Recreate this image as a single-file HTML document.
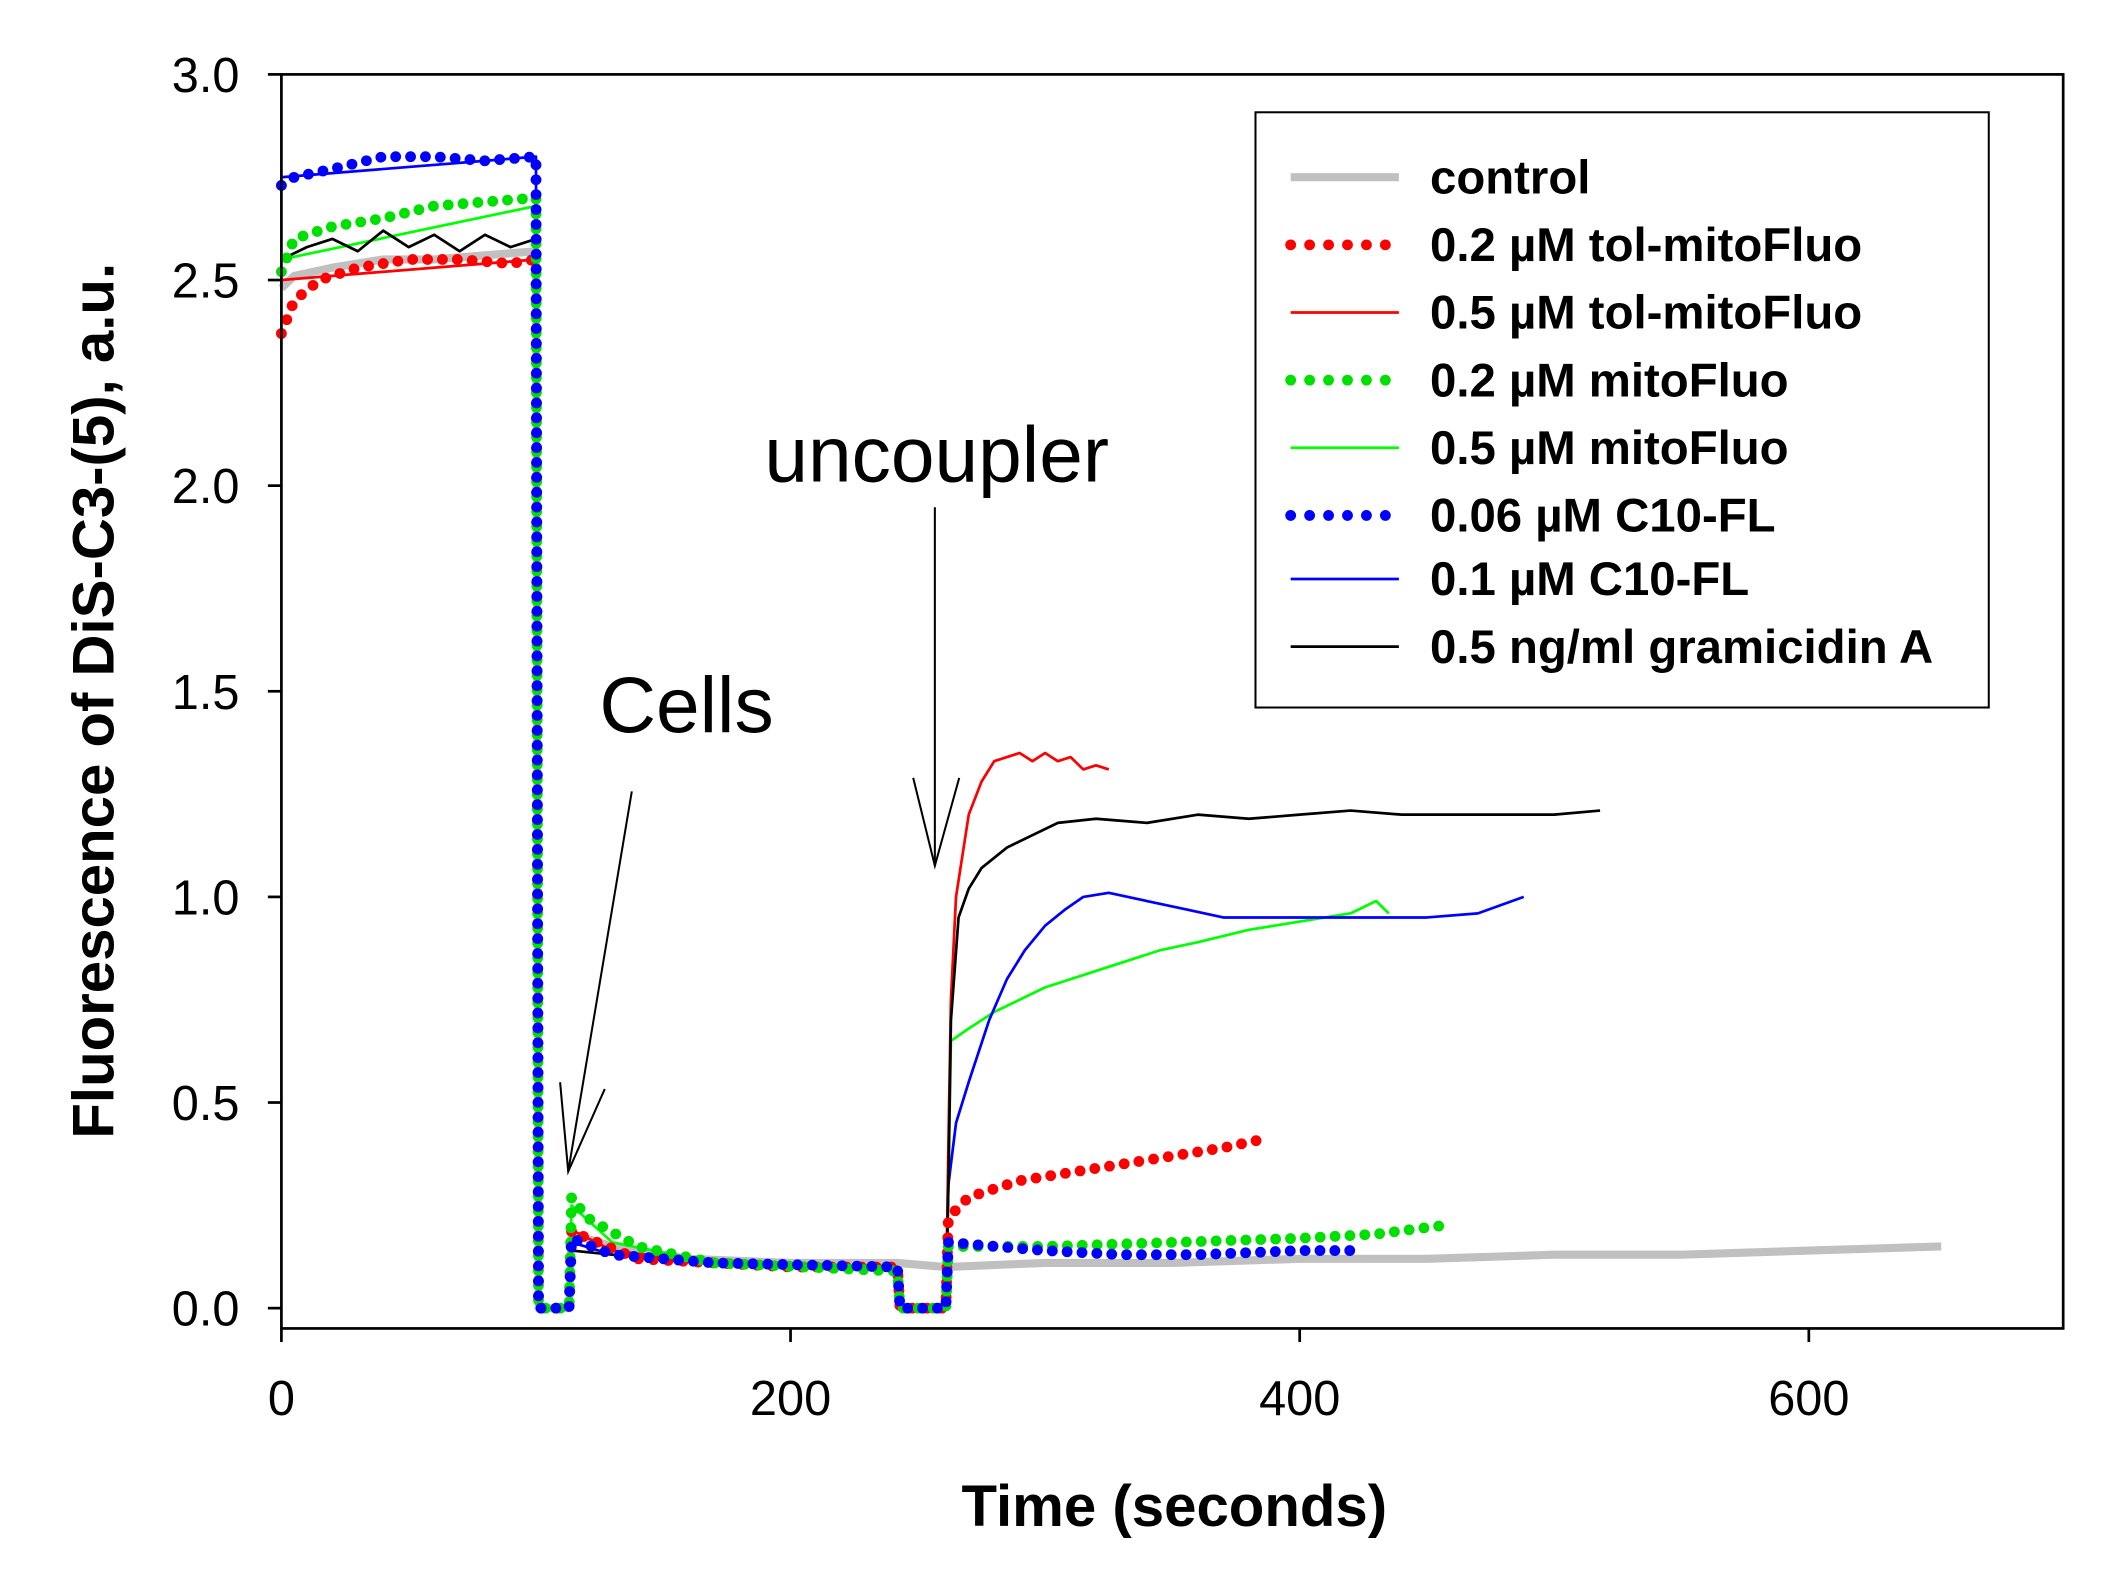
<!DOCTYPE html>
<html><head><meta charset="utf-8"><style>
html,body{margin:0;padding:0;background:#fff}
svg{display:block}
text{font-family:"Liberation Sans",Arial,sans-serif}
</style></head><body>
<svg id="chart" width="2120" height="1576" viewBox="0 0 1567 1165" preserveAspectRatio="none" xmlns="http://www.w3.org/2000/svg">
<rect width="1567" height="1165" fill="#fff"/>
<g id="series"></g>
<rect x="208" y="55" width="1317" height="927" fill="none" stroke="#000" stroke-width="2"/>
<g id="axes"></g>
<text x="84" y="518" transform="rotate(-90 84 518)" text-anchor="middle" font-size="43" font-weight="bold">Fluorescence of DiS-C3-(5), a.u.</text>
<text x="868" y="1128" text-anchor="middle" font-size="43" font-weight="bold">Time (seconds)</text>
<text x="443" y="541" font-size="58">Cells</text>
<g stroke="#000" stroke-width="1.5" fill="none">
<line x1="467" y1="585" x2="420" y2="866"/><polyline points="414,800 420,866 447,805"/></g>
<text x="565" y="356" font-size="58">uncoupler</text>
<g stroke="#000" stroke-width="1.5" fill="none">
<line x1="691" y1="375" x2="691" y2="640"/><polyline points="675,575 691,640 709,575"/></g>
<g>
<rect x="928" y="83" width="542" height="440" fill="#fff" stroke="#000" stroke-width="1.5"/>
<g id="legend"></g>
</g>
</svg>
<script>
const X0=208, XPX=1129/600, Y0=967, YPX=304;
const sx=t=>X0+t*XPX, sy=v=>Y0-v*YPX;
const ns='http://www.w3.org/2000/svg';
const xTicks=[0,200,400,600];
const yTicks=[0.0,0.5,1.0,1.5,2.0,2.5,3.0];
const seriesNames=["control","0.2 \u00b5M tol-mitoFluo","0.5 \u00b5M tol-mitoFluo","0.2 \u00b5M mitoFluo","0.5 \u00b5M mitoFluo","0.06 \u00b5M C10-FL","0.1 \u00b5M C10-FL","0.5 ng/ml gramicidin A"];
const controlT=[0,5,20,40,60,80,100,101,113,114,130,160,200,242,261,300,350,400,450,500,550,600,652];
const controlV=[2.48,2.51,2.53,2.55,2.55,2.56,2.57,0,0,0.18,0.15,0.12,0.11,0.11,0.1,0.11,0.11,0.12,0.12,0.13,0.13,0.14,0.15];
const redDotT=[0,5,15,30,50,70,90,100,101,113,114,120,140,170,200,242,243,261,262,270,290,310,330,350,370,385];
const redDotV=[2.37,2.45,2.5,2.53,2.55,2.55,2.54,2.55,0,0,0.19,0.17,0.12,0.11,0.1,0.1,0,0,0.22,0.27,0.31,0.33,0.35,0.37,0.39,0.41];
const redT=[0,100,101,113,114,130,170,242,243,261,262,263,265,270,275,280,285,290,295,300,305,310,315,320,325];
const redV=[2.5,2.55,0,0,0.19,0.14,0.11,0.1,0,0,0.4,0.75,1.0,1.2,1.28,1.33,1.34,1.35,1.33,1.35,1.33,1.34,1.31,1.32,1.31];
const greenDotT=[0,5,20,40,60,80,100,101,113,114,120,140,170,242,243,261,262,300,350,400,430,455];
const greenDotV=[2.52,2.6,2.63,2.65,2.68,2.69,2.7,0,0,0.27,0.22,0.15,0.11,0.09,0,0,0.15,0.15,0.16,0.17,0.18,0.2];
const greenT=[0,100,101,113,114,130,170,242,243,261,262,263,270,280,290,300,315,330,345,360,380,400,420,430,435];
const greenV=[2.55,2.68,0,0,0.25,0.16,0.11,0.09,0,0,0.3,0.65,0.68,0.72,0.75,0.78,0.81,0.84,0.87,0.89,0.92,0.94,0.96,0.99,0.96];
const blueDotT=[0,5,20,40,60,80,100,101,113,114,130,170,242,243,261,262,300,330,360,400,420];
const blueDotV=[2.73,2.75,2.77,2.8,2.8,2.79,2.8,0,0,0.17,0.13,0.11,0.1,0,0,0.16,0.14,0.13,0.13,0.14,0.14];
const blueT=[0,100,101,113,114,130,170,242,243,261,262,265,270,278,285,292,300,308,315,325,340,355,370,390,410,430,450,470,488];
const blueV=[2.75,2.8,0,0,0.16,0.13,0.11,0.1,0,0,0.3,0.45,0.55,0.7,0.8,0.87,0.93,0.97,1.0,1.01,0.99,0.97,0.95,0.95,0.95,0.95,0.95,0.96,1.0];
const blackT=[0,10,20,30,40,50,60,70,80,90,100,101,113,114,130,170,242,243,261,262,263,266,270,275,285,295,305,320,340,360,380,400,420,440,460,480,500,518];
const blackV=[2.55,2.58,2.6,2.57,2.62,2.58,2.61,2.57,2.61,2.58,2.6,0,0,0.14,0.13,0.11,0.1,0,0,0.3,0.7,0.95,1.02,1.07,1.12,1.15,1.18,1.19,1.18,1.2,1.19,1.2,1.21,1.2,1.2,1.2,1.2,1.21];
const seriesT=[controlT,redDotT,redT,greenDotT,greenT,blueDotT,blueT,blackT];
const seriesV=[controlV,redDotV,redV,greenDotV,greenV,blueDotV,blueV,blackV];
const styles=[
 {c:'#c0c0c0',w:6,dot:false},{c:'#ff0000',w:8,dot:true},{c:'#ff0000',w:2,dot:false},
 {c:'#00e000',w:8,dot:true},{c:'#00ff00',w:2,dot:false},{c:'#0000ff',w:8,dot:true},
 {c:'#0000ff',w:2,dot:false},{c:'#000000',w:2,dot:false}];
const slugs=['control','tol-mitofluo-0-2','tol-mitofluo-0-5','mitofluo-0-2','mitofluo-0-5','c10-fl-0-06','c10-fl-0-1','gramicidin-a'];
const sg=document.getElementById('series');
[0,2,4,6,7,1,3,5].forEach(i=>{
  const p=document.createElementNS(ns,'polyline');
  p.setAttribute('points',seriesT[i].map((t,k)=>sx(t)+','+sy(seriesV[i][k])).join(' '));
  p.setAttribute('fill','none');p.setAttribute('stroke',styles[i].c);
  p.setAttribute('stroke-width',styles[i].w);
  p.setAttribute('stroke-linejoin','round');
  if(styles[i].dot){p.setAttribute('stroke-dasharray','0 11');p.setAttribute('stroke-linecap','round');}
  
  
  sg.appendChild(p);
});
const ax=document.getElementById('axes');
yTicks.forEach(v=>{
  const l=document.createElementNS(ns,'line');
  l.setAttribute('x1',198);l.setAttribute('x2',208);l.setAttribute('y1',sy(v));l.setAttribute('y2',sy(v));l.setAttribute('stroke','#000');l.setAttribute('stroke-width',2);
  
  
  ax.appendChild(l);
  const t=document.createElementNS(ns,'text');
  t.setAttribute('x',177);t.setAttribute('y',sy(v)+13);t.setAttribute('text-anchor','end');t.setAttribute('font-size','36');
  t.textContent=v.toFixed(1);
  
  
  ax.appendChild(t);
});
xTicks.forEach(v=>{
  const l=document.createElementNS(ns,'line');
  l.setAttribute('x1',sx(v));l.setAttribute('x2',sx(v));l.setAttribute('y1',982);l.setAttribute('y2',992);l.setAttribute('stroke','#000');l.setAttribute('stroke-width',2);
  
  
  ax.appendChild(l);
  const t=document.createElementNS(ns,'text');
  t.setAttribute('x',sx(v));t.setAttribute('y',1046);t.setAttribute('text-anchor','middle');t.setAttribute('font-size','36');
  t.textContent=v;
  
  
  ax.appendChild(t);
});
const lg=document.getElementById('legend');
const lgY=[131,181,231,281,331,381,428,478];
[0,1,2,3,4,5,6,7].forEach((i,k)=>{
  const yy=lgY[k];
  const l=document.createElementNS(ns,'line');
  l.setAttribute('x1',954);l.setAttribute('x2',1034);l.setAttribute('y1',yy);l.setAttribute('y2',yy);
  l.setAttribute('stroke',styles[i].c);l.setAttribute('stroke-width',styles[i].w);
  if(styles[i].dot){l.setAttribute('stroke-dasharray','0 14');l.setAttribute('stroke-linecap','round');}
  
  
  lg.appendChild(l);
  const t=document.createElementNS(ns,'text');
  t.setAttribute('x',1057);t.setAttribute('y',yy+12);t.setAttribute('font-size','35');t.setAttribute('font-weight','bold');
  t.textContent=seriesNames[i];
  
  
  lg.appendChild(t);
});
</script>
</body></html>
